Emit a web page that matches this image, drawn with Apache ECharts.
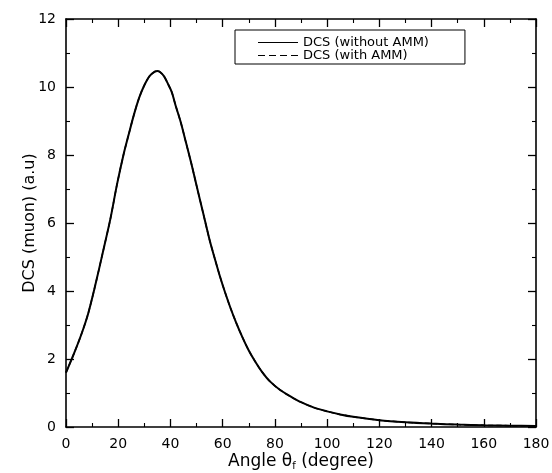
<!DOCTYPE html>
<html>
<head>
<meta charset="utf-8">
<script src="https://cdn.jsdelivr.net/npm/echarts@6/dist/echarts.min.js"></script>
<style>
  body { margin: 0; background: #fff; }
  #chart { width: 552px; height: 473px; }
</style>
</head>
<body>
<div id="chart"></div>
<script>
// angle in degrees, DCS values
var angles = [0, 3, 6, 8.5, 11, 14, 17, 19.5, 22, 24, 26, 28, 30, 32, 34, 35, 36, 37.5, 39, 40.5, 42, 44, 46, 48, 50, 52.5, 55, 57, 59, 61, 63, 65, 67.5, 70, 72.5, 75, 78, 82, 86, 90, 95, 100, 105, 110, 120, 130, 140, 150, 160, 170, 180];
var dcsWithout = [1.6, 2.15, 2.75, 3.34, 4.1, 5.1, 6.12, 7.12, 8.0, 8.6, 9.18, 9.68, 10.05, 10.32, 10.45, 10.47, 10.44, 10.32, 10.1, 9.85, 9.45, 8.95, 8.35, 7.75, 7.1, 6.3, 5.5, 4.95, 4.42, 3.94, 3.5, 3.1, 2.65, 2.25, 1.92, 1.63, 1.35, 1.09, 0.9, 0.73, 0.57, 0.46, 0.37, 0.3, 0.2, 0.14, 0.1, 0.07, 0.05, 0.04, 0.03];
var dcsWith = [1.6, 2.15, 2.75, 3.34, 4.1, 5.1, 6.12, 7.12, 8.0, 8.6, 9.18, 9.68, 10.05, 10.32, 10.45, 10.47, 10.44, 10.32, 10.1, 9.85, 9.45, 8.95, 8.35, 7.75, 7.1, 6.3, 5.5, 4.95, 4.42, 3.94, 3.5, 3.1, 2.65, 2.25, 1.92, 1.63, 1.35, 1.09, 0.9, 0.73, 0.57, 0.46, 0.37, 0.3, 0.2, 0.14, 0.1, 0.07, 0.05, 0.04, 0.03];
var xTicks = [0, 180, 20];
var yTicks = [0, 12, 2];

function pairs(xs, ys) {
    return xs.map(function (x, i) { return [x, ys[i]]; });
}

var font = 'DejaVu Sans, sans-serif';
var axisLine = { show: true, onZero: false, lineStyle: { color: '#000', width: 1.6 } };
var ticks = { show: true, inside: true, length: 8, lineStyle: { color: '#000', width: 1.3 } };
var minor = { show: true, splitNumber: 2, length: 4, lineStyle: { color: '#000', width: 1.1 } };

var myChart = echarts.init(document.getElementById('chart'));
var option = {
    animation: false,
    grid: { left: 66, top: 19, right: 16, bottom: 46, outerBoundsMode: 'none' },
    legend: {
        top: 30, left: 235,
        orient: 'vertical',
        itemGap: 0,
        itemWidth: 40, itemHeight: 10,
        padding: [6, 36, 2, 23],
        borderColor: '#000', borderWidth: 1,
        textStyle: { fontFamily: font, fontSize: 13, lineHeight: 12, color: '#000' },
        data: [
            { name: 'DCS (without AMM)', icon: 'path://M0,5 L40,5 L40,6 L0,6 Z' },
            { name: 'DCS (with AMM)', icon: 'path://M0,5 L7,5 L7,6 L0,6 Z M11,5 L18,5 L18,6 L11,6 Z M22,5 L29,5 L29,6 L22,6 Z M33,5 L40,5 L40,6 L33,6 Z' }
        ]
    },
    xAxis: [{
        type: 'value', min: xTicks[0], max: xTicks[1], interval: xTicks[2],
        axisLine: axisLine, axisTick: ticks, minorTick: minor, splitLine: { show: false },
        axisLabel: { color: '#000', fontFamily: font, fontSize: 14, margin: 10 },
        name: '{a|Angle θ}{s|f}{a| (degree)}',
        nameLocation: 'middle', nameGap: 25, nameMoveOverlap: false,
        nameTextStyle: {
            rich: {
                a: { fontFamily: font, fontSize: 17, color: '#000' },
                s: { fontFamily: font, fontSize: 10, color: '#000', verticalAlign: 'bottom', padding: [9, 0, 0, 0] }
            }
        }
    }, {
        type: 'value', position: 'top', min: xTicks[0], max: xTicks[1], interval: xTicks[2],
        axisLine: axisLine, axisTick: ticks, minorTick: minor, splitLine: { show: false },
        axisLabel: { show: false }
    }],
    yAxis: [{
        type: 'value', min: yTicks[0], max: yTicks[1], interval: yTicks[2],
        axisLine: axisLine, axisTick: ticks, minorTick: minor, splitLine: { show: false },
        axisLabel: { color: '#000', fontFamily: font, fontSize: 14, margin: 10 },
        name: 'DCS (muon) (a.u)',
        nameLocation: 'middle', nameGap: 28, nameMoveOverlap: false,
        nameTextStyle: { fontFamily: font, fontSize: 16, color: '#000' }
    }, {
        type: 'value', position: 'right', min: yTicks[0], max: yTicks[1], interval: yTicks[2],
        axisLine: axisLine, axisTick: ticks, minorTick: minor, splitLine: { show: false },
        axisLabel: { show: false }
    }],
    series: [{
        name: 'DCS (without AMM)', type: 'line', showSymbol: false, smooth: 0.3,
        data: pairs(angles, dcsWithout),
        lineStyle: { color: '#000', width: 2 }, itemStyle: { color: '#000' }
    }, {
        name: 'DCS (with AMM)', type: 'line', showSymbol: false, smooth: 0.3,
        data: pairs(angles, dcsWith),
        lineStyle: { color: '#000', width: 1.5, type: [5, 3] }, itemStyle: { color: '#000' }
    }]
};
myChart.setOption(option);
</script>
</body>
</html>
